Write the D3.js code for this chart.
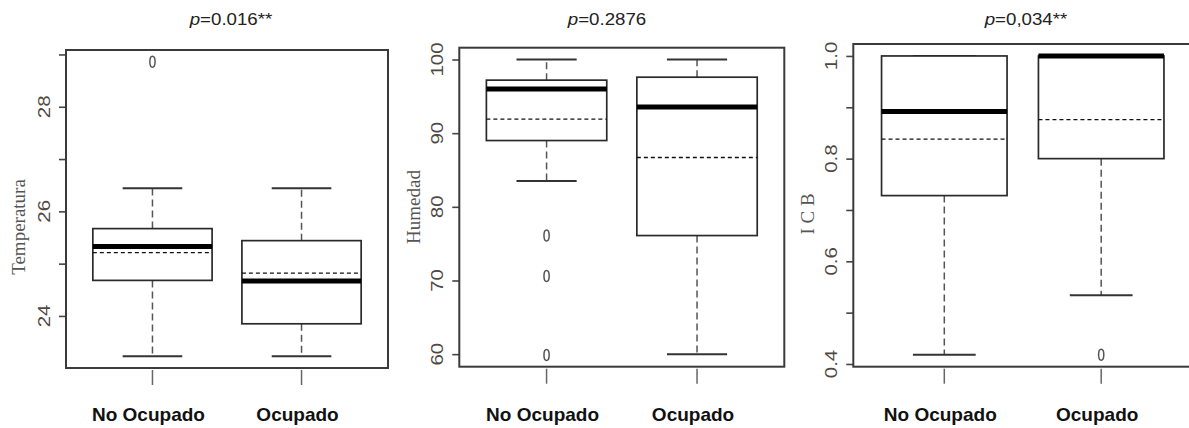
<!DOCTYPE html>
<html>
<head>
<meta charset="utf-8">
<script src="https://cdn.jsdelivr.net/npm/d3@7"></script>
<style>
  html, body { margin: 0; padding: 0; background: #fff; overflow: hidden; }
  svg { display: block; }
</style>
</head>
<body>
<script>
// Group names shared by the three box plots
const categories = ["No Ocupado", "Ocupado"];

// Temperatura: five-number summaries [lower whisker, Q1, median, Q3, upper whisker]
const tempStats = [[23.23, 24.68, 25.33, 25.67, 26.44], [23.23, 23.85, 24.67, 25.44, 26.44]];
const tempMeans = [25.21, 24.82];
const tempOutliers = [[28.86], []];
const tempTicks = [24, 25, 26, 27, 28, 29];
const tempTickLabels = [24, 26, 28];

// Humedad
const humStats = [[83.5, 89.0, 96.0, 97.2, 100], [60, 76.1, 93.55, 97.6, 100]];
const humMeans = [91.9, 86.7];
const humOutliers = [[76.1, 70.6, 59.9], []];
const humTicks = [60, 70, 80, 90, 100];
const humTickLabels = [60, 70, 80, 90, 100];

// ICB
const icbStats = [[0.418, 0.728, 0.892, 1.0, 1.0], [0.534, 0.80, 1.0, 1.0, 1.0]];
const icbMeans = [0.838, 0.876];
const icbOutliers = [[], [0.418]];
const icbTicks = [0.4, 0.5, 0.6, 0.7, 0.8, 0.9, 1.0];
const icbTickLabels = [0.4, 0.6, 0.8, 1.0];

// Titles and axis names
const pTitles = ["=0.016**", "=0.2876", "=0,034**"];
const yTitles = ["Temperatura", "Humedad", "I C B"];

const W = 1189, H = 428;
const svg = d3.select("body").append("svg").attr("width", W).attr("height", H);

// Plot-frame layout of each panel
const layout = [
  { left: 66, right: 388, top: 50, bottom: 368, titleX: 231, yTitleX: 18, yTitleY: 227, fmt: d3.format("d") },
  { left: 459.3, right: 784.3, top: 47.7, bottom: 366.7, titleX: 607, yTitleX: 413, yTitleY: 207, fmt: d3.format("d") },
  { left: 853.3, right: 1192.2, top: 44, bottom: 366.7, titleX: 1026, yTitleX: 807, yTitleY: 214, fmt: d3.format(".1f") }
];

const panels = [
  { stats: tempStats, means: tempMeans, outliers: tempOutliers, ticks: tempTicks, tickLabels: tempTickLabels },
  { stats: humStats, means: humMeans, outliers: humOutliers, ticks: humTicks, tickLabels: humTickLabels },
  { stats: icbStats, means: icbMeans, outliers: icbOutliers, ticks: icbTicks, tickLabels: icbTickLabels }
];

panels.forEach((p, i) => {
  const L = layout[i];
  const g = svg.append("g");

  // y range: data extent padded by 4% on each side
  const all = p.stats.flat().concat(p.outliers.flat());
  const lo = d3.min(all), hi = d3.max(all);
  const pad = (hi - lo) * 0.04;
  const y = d3.scaleLinear().domain([lo - pad, hi + pad]).range([L.bottom, L.top]);
  // x: two groups at positions 1 and 2
  const x = d3.scaleLinear().domain([0.42, 2.58]).range([L.left, L.right]);
  const halfBox = x(1.4) - x(1);

  // Left axis tick marks
  const axis = d3.axisLeft(y).tickValues(p.ticks).tickSize(7).tickFormat(() => "");
  const ag = g.append("g").attr("transform", `translate(${L.left},0)`).call(axis);
  ag.select(".domain").remove();
  ag.selectAll(".tick text").remove();
  ag.selectAll(".tick line").attr("stroke", "#444").attr("stroke-width", 1.6);

  // Rotated, widened tick labels (read bottom to top)
  g.selectAll(null).data(p.tickLabels).enter().append("text")
    .attr("transform", d => `translate(${L.left - 22},${y(d)}) rotate(-90) scale(1.28,1)`)
    .attr("text-anchor", "middle")
    .attr("dy", "0.36em")
    .attr("fill", "#4f4843")
    .style("font-family", "'Liberation Sans', Arial, sans-serif")
    .style("font-size", "16px")
    .text(d => L.fmt(d));

  // Tick marks under each group
  g.selectAll(null).data(categories).enter().append("line")
    .attr("x1", (d, j) => x(j + 1)).attr("x2", (d, j) => x(j + 1))
    .attr("y1", L.bottom + 2).attr("y2", L.bottom + 17)
    .attr("stroke", "#666").attr("stroke-width", 1.5);

  // Boxes
  const bx = g.selectAll(null).data(p.stats).enter().append("g");
  // whiskers (dashed)
  bx.append("line")
    .attr("x1", (d, j) => x(j + 1)).attr("x2", (d, j) => x(j + 1))
    .attr("y1", d => y(d[3])).attr("y2", d => y(d[4]))
    .attr("stroke", "#555").attr("stroke-width", 1.5).attr("stroke-dasharray", "7,4");
  bx.append("line")
    .attr("x1", (d, j) => x(j + 1)).attr("x2", (d, j) => x(j + 1))
    .attr("y1", d => y(d[1])).attr("y2", d => y(d[0]))
    .attr("stroke", "#555").attr("stroke-width", 1.5).attr("stroke-dasharray", "7,4");
  // whisker caps
  [0, 4].forEach(k => {
    bx.append("line")
      .attr("x1", (d, j) => x(j + 1) - halfBox / 2).attr("x2", (d, j) => x(j + 1) + halfBox / 2)
      .attr("y1", d => y(d[k])).attr("y2", d => y(d[k]))
      .attr("stroke", "#333").attr("stroke-width", 2);
  });
  // box body
  bx.append("rect")
    .attr("x", (d, j) => x(j + 1) - halfBox)
    .attr("width", 2 * halfBox)
    .attr("y", d => y(d[3]))
    .attr("height", d => y(d[1]) - y(d[3]))
    .attr("fill", "#fff").attr("stroke", "#2a2a2a").attr("stroke-width", 1.7);
  // mean (dashed)
  bx.append("line")
    .attr("x1", (d, j) => x(j + 1) - halfBox).attr("x2", (d, j) => x(j + 1) + halfBox)
    .attr("y1", (d, j) => y(p.means[j])).attr("y2", (d, j) => y(p.means[j]))
    .attr("stroke", "#111").attr("stroke-width", 1.3).attr("stroke-dasharray", "4,3");
  // median (thick)
  bx.append("line")
    .attr("x1", (d, j) => x(j + 1) - halfBox).attr("x2", (d, j) => x(j + 1) + halfBox)
    .attr("y1", d => y(d[2])).attr("y2", d => y(d[2]))
    .attr("stroke", "#000").attr("stroke-width", 5);

  // Outliers
  p.outliers.forEach((arr, j) => {
    g.selectAll(null).data(arr).enter().append("ellipse")
      .attr("cx", x(j + 1)).attr("cy", d => y(d))
      .attr("rx", 2.6).attr("ry", 5.5)
      .attr("fill", "none").attr("stroke", "#555").attr("stroke-width", 1.5);
  });

  // Plot frame
  g.append("rect")
    .attr("x", L.left).attr("y", L.top)
    .attr("width", L.right - L.left).attr("height", L.bottom - L.top)
    .attr("fill", "none").attr("stroke", "#3a3a3a").attr("stroke-width", 2);

  // Category labels
  g.selectAll(null).data(categories).enter().append("text")
    .attr("x", (d, j) => x(j + 1) - 4).attr("y", 421)
    .attr("text-anchor", "middle")
    .attr("fill", "#111")
    .style("font-family", "'Liberation Sans', Arial, sans-serif")
    .style("font-weight", "bold").style("font-size", "19px")
    .text(d => d);

  // Axis name
  g.append("text")
    .attr("transform", `translate(${L.yTitleX},${L.yTitleY}) rotate(-90)`)
    .attr("text-anchor", "middle").attr("dy", "0.35em")
    .attr("fill", "#555")
    .style("font-family", "'Liberation Serif', 'Times New Roman', serif")
    .style("font-size", "19px")
    .text(yTitles[i]);

  // p-value title
  const t = g.append("text")
    .attr("transform", `translate(${L.titleX},25) scale(1.1,1)`)
    .attr("text-anchor", "middle")
    .attr("fill", "#222")
    .style("font-family", "'Liberation Sans', Arial, sans-serif")
    .style("font-size", "17px");
  t.append("tspan").style("font-style", "italic").text("p");
  t.append("tspan").text(pTitles[i]);
});
</script>
</body>
</html>
